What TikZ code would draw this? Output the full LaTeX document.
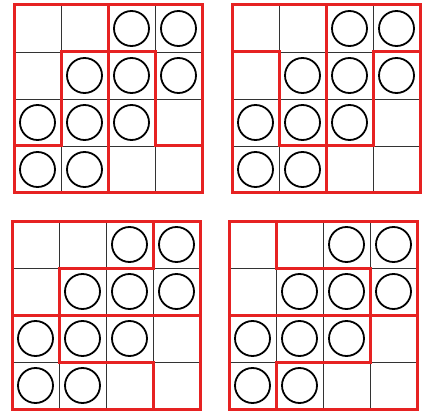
\documentclass[tikz,border=0pt]{standalone}
\usepackage{tikz}
\definecolor{puzred}{RGB}{230,34,34}
\tikzset{
  gridline/.style={draw=black!80, line width=0.9pt},
  ring/.style={draw=black, line width=1.8pt},
  redline/.style={draw=puzred, line width=3pt, line cap=rect, line join=miter}
}
\newcommand\puzzlegrid[3]{%
  \begin{scope}[shift={(#1,#2)}, x=47pt, y=-47pt]
    \foreach \i in {1,2,3} {
      \draw[gridline] (\i,0) -- (\i,4);
      \draw[gridline] (0,\i) -- (4,\i);
    }
    \foreach \c/\r in {2/0,3/0,1/1,2/1,3/1,0/2,1/2,2/2,0/3,1/3}
      \draw[ring] (\c+0.5,\r+0.5) circle (17.5pt);
    \draw[redline] (0,0) rectangle (4,4);
    \draw[redline] #3;
  \end{scope}}
\begin{document}
\begin{tikzpicture}[x=1pt,y=-1pt]
  \useasboundingbox (0,0) rectangle (428,414);
  \puzzlegrid{14}{5}{(0,3) -- (1,3) -- (1,1) -- (3,1) -- (3,3) -- (4,3) (2,0) -- (2,4)}
  \puzzlegrid{232}{5}{(0,1) -- (1,1) -- (1,3) -- (3,3) -- (3,1) -- (4,1) (2,0) -- (2,4)}
  \puzzlegrid{12}{221}{(3,0) -- (3,1) -- (1,1) -- (1,3) -- (3,3) -- (3,4) (0,2) -- (4,2)}
  \puzzlegrid{229}{221}{(1,0) -- (1,1) -- (3,1) -- (3,3) -- (1,3) -- (1,4) (0,2) -- (4,2)}
\end{tikzpicture}
\end{document}
